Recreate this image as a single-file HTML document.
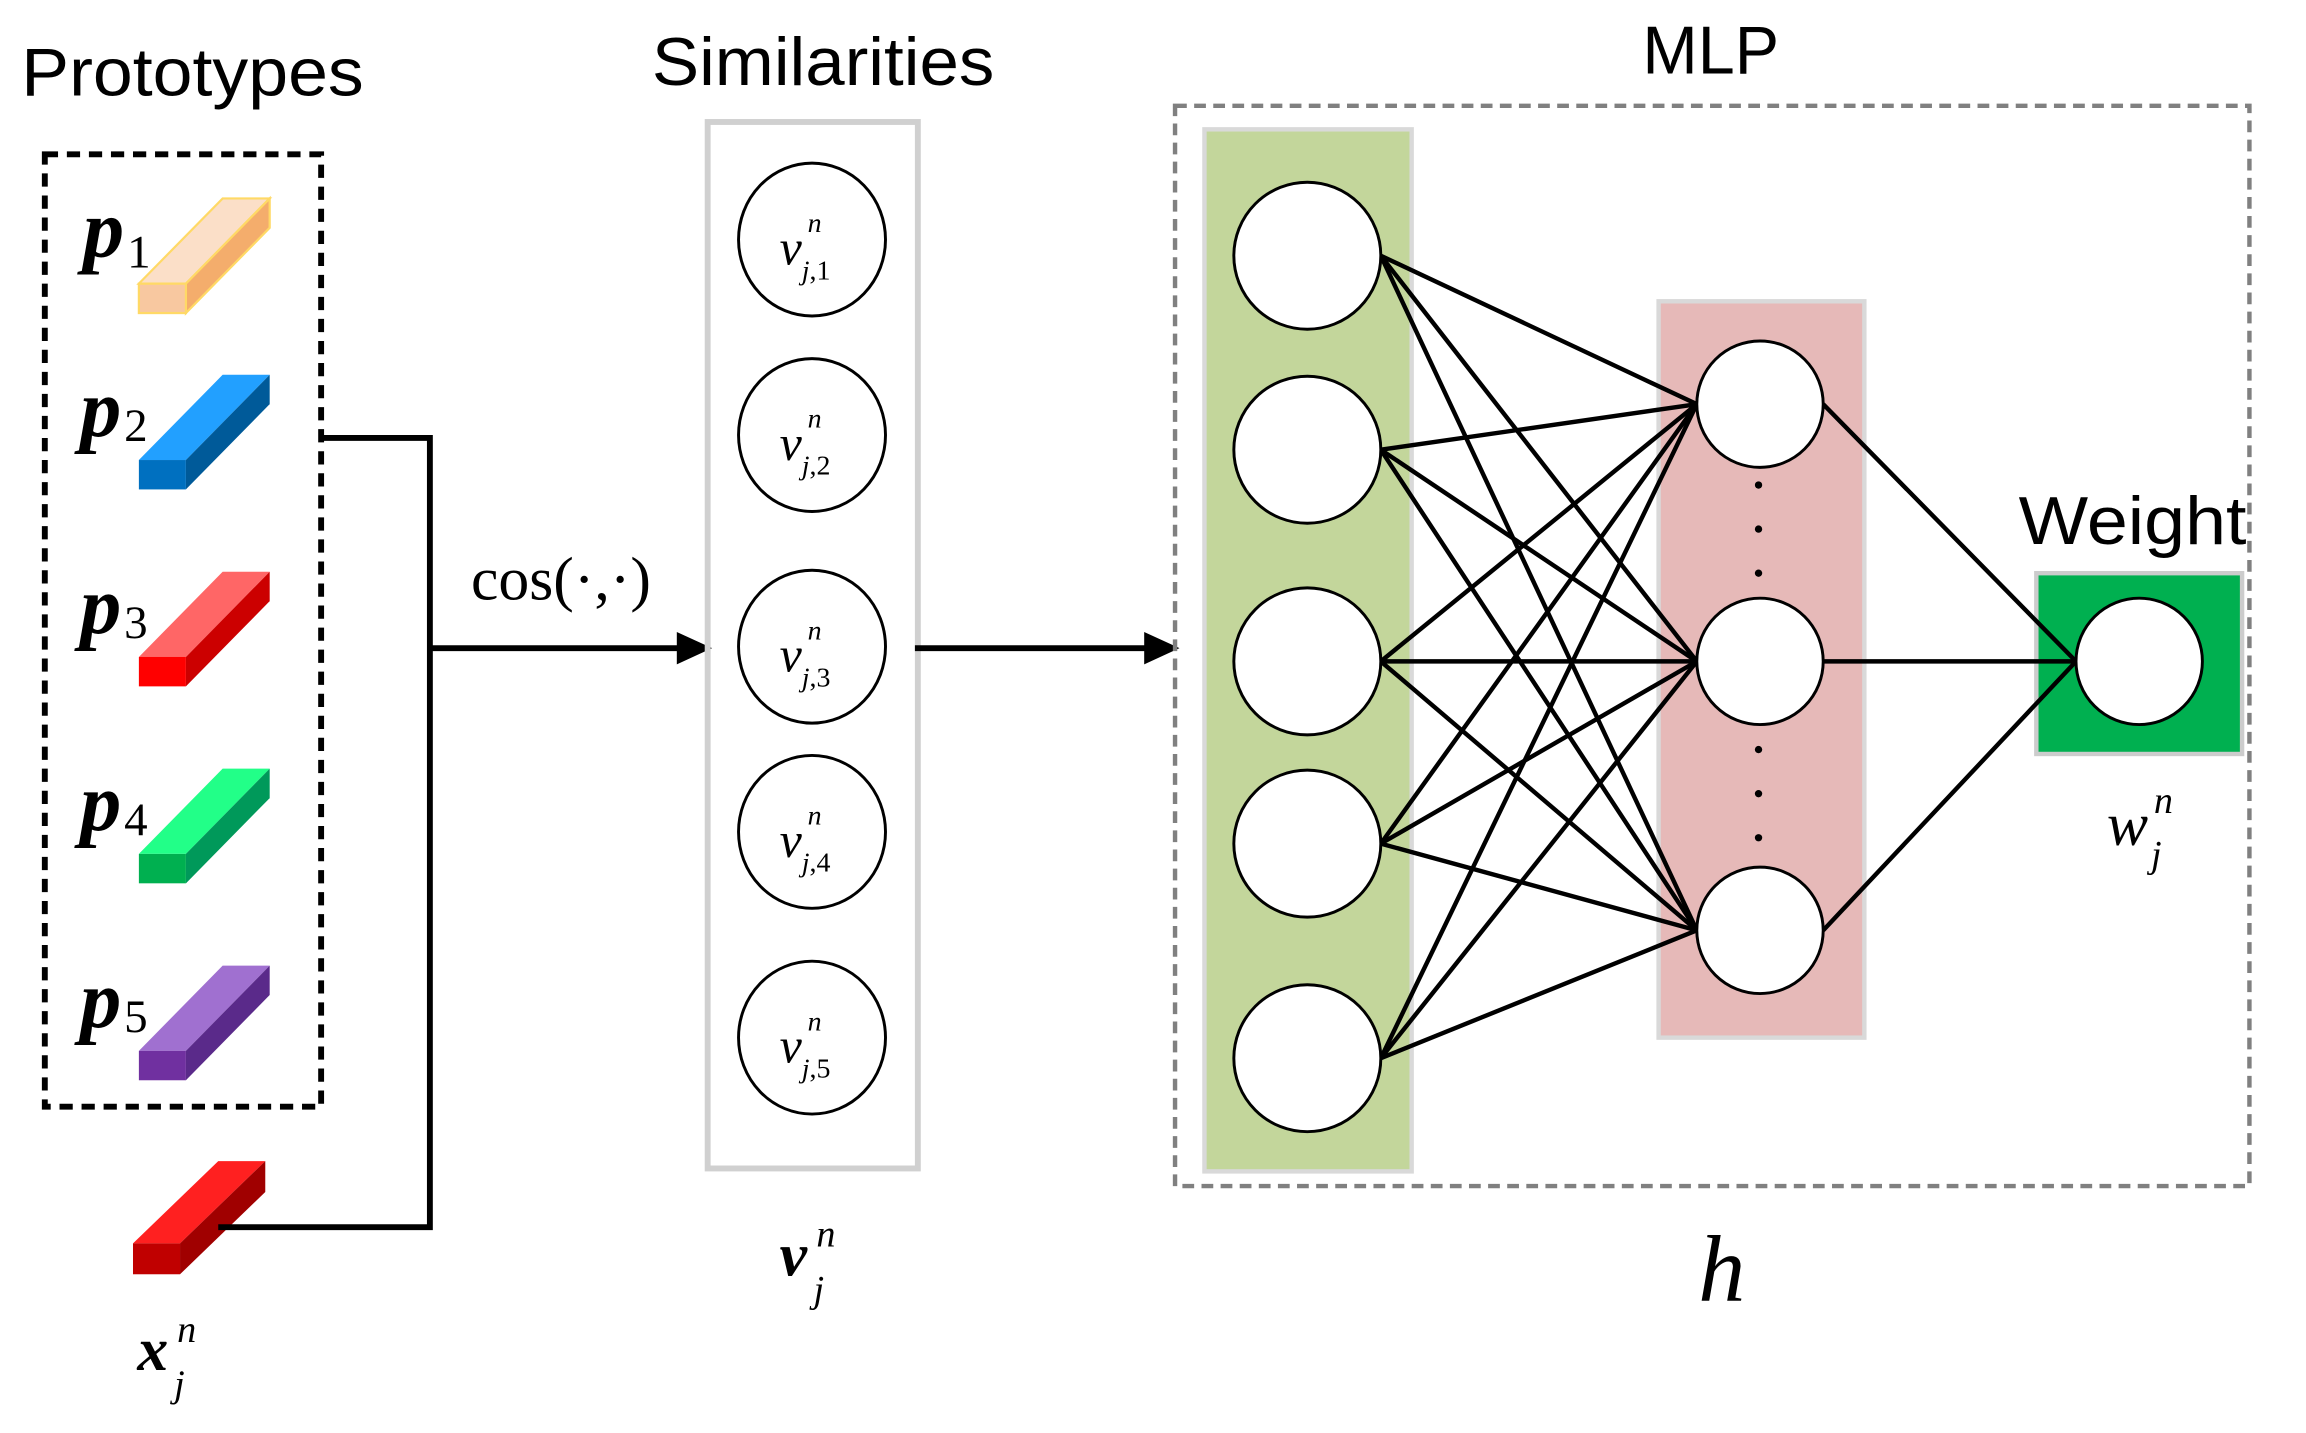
<!DOCTYPE html>
<html><head><style>html,body{margin:0;padding:0;background:#fff}svg{display:block}</style></head>
<body>
<svg width="2306" height="1433" viewBox="0 0 1568 975" xmlns="http://www.w3.org/2000/svg">
<g font-family="Liberation Sans, sans-serif" font-size="46" fill="#000">
<text x="14" y="65" textLength="233" lengthAdjust="spacingAndGlyphs">Prototypes</text>
<text x="443" y="58" textLength="233" lengthAdjust="spacingAndGlyphs">Similarities</text>
<text x="1117" y="50" textLength="93" lengthAdjust="spacingAndGlyphs">MLP</text>
<text x="1373" y="370" textLength="155" lengthAdjust="spacingAndGlyphs">Weight</text>
</g>
<rect x="30" y="105" width="188" height="648" fill="none" stroke="#000" stroke-width="4" stroke-dasharray="9,6"/>
<g stroke-width="1.5">
<g>
<polygon points="94,193 151,135 183,135 126,193" fill="#fbdfc8" stroke="#ffd966"/>
<polygon points="126,193 183,135 183,155 126,213" fill="#f4ad6c" stroke="#ffd966"/>
<rect x="94" y="193" width="32" height="20" fill="#f8c8a0" stroke="#ffd966"/>
</g>
<g transform="translate(0,120)">
<polygon points="94,193 151,135 183,135 126,193" fill="#22a0ff"/>
<polygon points="126,193 183,135 183,155 126,213" fill="#005a99"/>
<rect x="94" y="193" width="32" height="20" fill="#0070c0"/>
</g>
<g transform="translate(0,254)">
<polygon points="94,193 151,135 183,135 126,193" fill="#ff6666"/>
<polygon points="126,193 183,135 183,155 126,213" fill="#cc0000"/>
<rect x="94" y="193" width="32" height="20" fill="#ff0000"/>
</g>
<g transform="translate(0,388)">
<polygon points="94,193 151,135 183,135 126,193" fill="#22ff88"/>
<polygon points="126,193 183,135 183,155 126,213" fill="#00995a"/>
<rect x="94" y="193" width="32" height="20" fill="#00b050"/>
</g>
<g transform="translate(0,522)">
<polygon points="94,193 151,135 183,135 126,193" fill="#a070d0"/>
<polygon points="126,193 183,135 183,155 126,213" fill="#5a2a8a"/>
<rect x="94" y="193" width="32" height="20" fill="#7030a0"/>
</g>
<g>
<polygon points="90,846 148,790 180,790 122,846" fill="#ff2020"/>
<polygon points="122,846 180,790 180,811 122,867" fill="#a00000"/>
<rect x="90" y="846" width="32" height="21" fill="#c00000"/>
</g>
</g>
<g font-family="Liberation Serif, serif" font-style="italic" font-weight="bold" font-size="56">
<text x="56" y="175">p</text><text x="54" y="297">p</text><text x="54" y="431">p</text><text x="54" y="565">p</text><text x="54" y="699">p</text>
</g>
<g font-family="Liberation Serif, serif" font-size="32">
<text x="86" y="182">1</text><text x="84" y="300">2</text><text x="84" y="434">3</text><text x="84" y="568">4</text><text x="84" y="702">5</text>
</g>
<path d="M218,298 H292 V835 H148" fill="none" stroke="#000" stroke-width="4"/>
<line x1="292" y1="441" x2="462" y2="441" stroke="#000" stroke-width="4"/>
<polygon points="460,430 484,441 460,452" fill="#000"/>
<text x="320" y="408" font-family="Liberation Serif, serif" font-size="42">cos(·,·)</text>
<rect x="481" y="83" width="143" height="712" fill="none" stroke="#d0d0d0" stroke-width="4"/>
<g fill="#fff" stroke="#000" stroke-width="2">
<ellipse cx="552" cy="163" rx="50" ry="52"/><ellipse cx="552" cy="296" rx="50" ry="52"/><ellipse cx="552" cy="440" rx="50" ry="52"/><ellipse cx="552" cy="566" rx="50" ry="52"/><ellipse cx="552" cy="706" rx="50" ry="52"/>
</g>
<g font-family="Liberation Serif, serif" font-style="italic">
<g font-size="34"><text x="530" y="180">v</text><text x="530" y="313">v</text><text x="530" y="457">v</text><text x="530" y="583">v</text><text x="530" y="723">v</text></g>
<g font-size="19"><text x="549" y="158">n</text><text x="545" y="190">j<tspan font-style="normal">,1</tspan></text>
<text x="549" y="291">n</text><text x="545" y="323">j<tspan font-style="normal">,2</tspan></text>
<text x="549" y="435">n</text><text x="545" y="467">j<tspan font-style="normal">,3</tspan></text>
<text x="549" y="561">n</text><text x="545" y="593">j<tspan font-style="normal">,4</tspan></text>
<text x="549" y="701">n</text><text x="545" y="733">j<tspan font-style="normal">,5</tspan></text></g>
</g>
<line x1="622" y1="441" x2="780" y2="441" stroke="#000" stroke-width="4"/>
<polygon points="778,430 802,441 778,452" fill="#000"/>
<rect x="799" y="72" width="731" height="735" fill="none" stroke="#808080" stroke-width="3" stroke-dasharray="8,5"/>
<rect x="819" y="88" width="141" height="709" fill="#c3d69b" stroke="#d9d9d9" stroke-width="3"/>
<rect x="1128" y="205" width="140" height="501" fill="#e6b9b8" stroke="#d9d9d9" stroke-width="3"/>
<rect x="1385" y="390" width="140" height="123" fill="#00b050" stroke="#ccc" stroke-width="3"/>
<g stroke="#000" stroke-width="3">
<line x1="939" y1="174" x2="1154" y2="275"/><line x1="939" y1="174" x2="1154" y2="450"/><line x1="939" y1="174" x2="1154" y2="633"/>
<line x1="939" y1="306" x2="1154" y2="275"/><line x1="939" y1="306" x2="1154" y2="450"/><line x1="939" y1="306" x2="1154" y2="633"/>
<line x1="939" y1="450" x2="1154" y2="275"/><line x1="939" y1="450" x2="1154" y2="450"/><line x1="939" y1="450" x2="1154" y2="633"/>
<line x1="939" y1="574" x2="1154" y2="275"/><line x1="939" y1="574" x2="1154" y2="450"/><line x1="939" y1="574" x2="1154" y2="633"/>
<line x1="939" y1="720" x2="1154" y2="275"/><line x1="939" y1="720" x2="1154" y2="450"/><line x1="939" y1="720" x2="1154" y2="633"/>
<line x1="1240" y1="275" x2="1412" y2="450"/><line x1="1240" y1="450" x2="1412" y2="450"/><line x1="1240" y1="633" x2="1412" y2="450"/>
</g>
<g fill="#fff" stroke="#000" stroke-width="2">
<circle cx="889" cy="174" r="50"/><circle cx="889" cy="306" r="50"/><circle cx="889" cy="450" r="50"/><circle cx="889" cy="574" r="50"/><circle cx="889" cy="720" r="50"/>
<circle cx="1197" cy="275" r="43"/><circle cx="1197" cy="450" r="43"/><circle cx="1197" cy="633" r="43"/>
<circle cx="1455" cy="450" r="43"/>
</g>
<g fill="#000">
<circle cx="1196" cy="330" r="2.5"/><circle cx="1196" cy="360" r="2.5"/><circle cx="1196" cy="390" r="2.5"/>
<circle cx="1196" cy="510" r="2.5"/><circle cx="1196" cy="540" r="2.5"/><circle cx="1196" cy="570" r="2.5"/>
</g>
<g font-family="Liberation Serif, serif" font-style="italic">
<text x="1155" y="885" font-size="64">h</text>
<text x="1433" y="575" font-size="42">w</text><text x="1465" y="553" font-size="26">n</text><text x="1463" y="590" font-size="26">j</text>
<text x="530" y="868" font-size="42" font-weight="bold">v</text><text x="555" y="848" font-size="26">n</text><text x="553" y="886" font-size="26">j</text>
<text x="93" y="932" font-size="42" font-weight="bold">x</text><text x="120" y="913" font-size="26">n</text><text x="118" y="950" font-size="26">j</text>
</g>
</svg>
</body></html>
